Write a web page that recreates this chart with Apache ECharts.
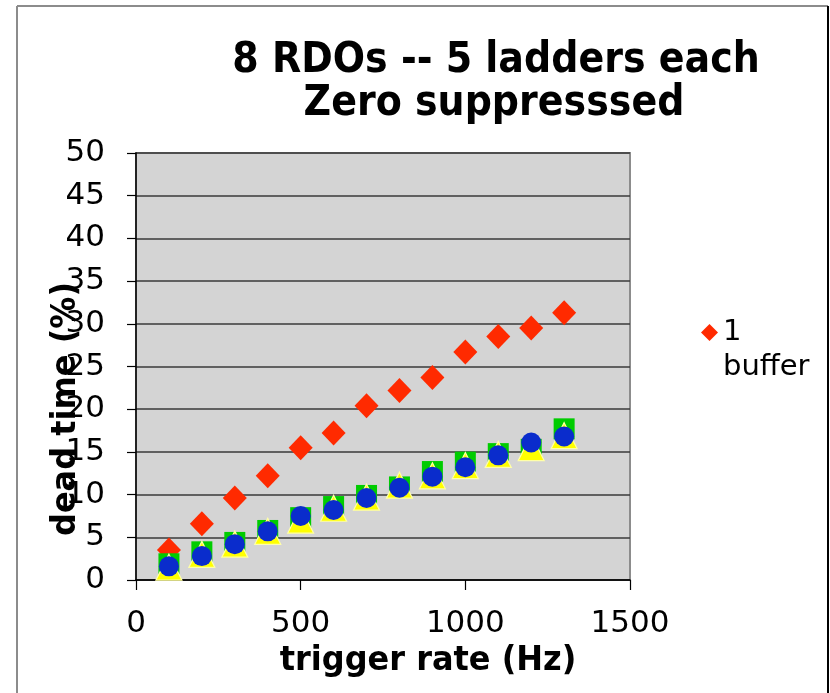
<!DOCTYPE html>
<html>
<head>
<meta charset="utf-8">
<script src="https://cdn.jsdelivr.net/npm/echarts@6/dist/echarts.min.js"></script>
<style>
html,body{margin:0;padding:0;background:#fff;}
#chart{width:830px;height:693px;}
</style>
</head>
<body>
<div id="chart"></div>
<script>
const titleLines = ['8 RDOs -- 5 ladders each', 'Zero suppresssed'];
const xName = 'trigger rate (Hz)';
const yName = 'dead time (%)';
const xTicks = [0, 500, 1000, 1500];
const yTicks = [0, 5, 10, 15, 20, 25, 30, 35, 40, 45, 50];
const rates = [100, 200, 300, 400, 500, 600, 700, 800, 900, 1000, 1100, 1200, 1300];
const oneBuffer = [3.5, 6.6, 9.6, 12.2, 15.5, 17.2, 20.4, 22.2, 23.7, 26.7, 28.5, 29.5, 31.3];
const greenSeries = [1.9, 3.3, 4.4, 5.8, 7.3, 8.6, 9.9, 10.9, 12.7, 13.8, 14.8, 15.3, 17.7];
const yellowSeries = [1.5, 3.0, 4.2, 5.7, 7.0, 8.4, 9.7, 11.1, 12.2, 13.4, 14.7, 15.5, 16.9];
const blueSeries = [1.6, 2.8, 4.2, 5.7, 7.5, 8.2, 9.6, 10.8, 12.1, 13.2, 14.6, 16.1, 16.8];

const pairs = arr => rates.map((r, i) => [r, arr[i]]);
const FONT = 'DejaVu Sans';

const chart = echarts.init(document.getElementById('chart'));
chart.setOption({
  animation: false,
  backgroundColor: '#ffffff',
  grid: {
    left: 136, top: 153, right: 200, bottom: 113,
    show: true, backgroundColor: '#d4d4d4', borderColor: '#8c8c8c', borderWidth: 2
  },
  xAxis: {
    type: 'value', min: 0, max: 1500, interval: 500,
    axisLine: { show: true, onZero: false, lineStyle: { color: '#000', width: 1.5 } },
    axisTick: { show: true, inside: false, length: 10, lineStyle: { color: '#000', width: 1.2 } },
    axisLabel: { color: '#000', fontFamily: FONT, fontSize: 31, margin: 28,
      formatter: v => xTicks.includes(v) ? String(v) : '' },
    splitLine: { show: false }
  },
  yAxis: {
    type: 'value', min: 0, max: 50, interval: 5,
    axisLine: { show: true, onZero: false, lineStyle: { color: '#000', width: 1.5 } },
    axisTick: { show: true, inside: false, length: 9, lineStyle: { color: '#000', width: 1.2 } },
    axisLabel: { color: '#000', fontFamily: FONT, fontSize: 31, margin: 31,
      formatter: v => yTicks.includes(v) ? String(v) : '' },
    splitLine: { show: true, lineStyle: { color: '#3a3a3a', width: 1.5 } }
  },
  legend: {
    data: ['1 buffer'],
    left: 701, top: 280, padding: 0,
    orient: 'vertical',
    itemWidth: 17, itemHeight: 17,
    icon: 'diamond',
    formatter: () => ' \n1\nbuffer',
    textStyle: { color: '#000', fontFamily: FONT, fontSize: 29, lineHeight: 35 }
  },
  graphic: [
    { type: 'line', shape: { x1: 17, y1: 6, x2: 17, y2: 693 }, style: { stroke: '#8c8c8c', lineWidth: 2 } },
    { type: 'line', shape: { x1: 17, y1: 6, x2: 828, y2: 6 }, style: { stroke: '#8c8c8c', lineWidth: 2 } },
    { type: 'line', shape: { x1: 828, y1: 6, x2: 828, y2: 693 }, style: { stroke: '#000', lineWidth: 2 } },
    { type: 'text', style: { text: titleLines[0], font: 'bold 38px "DejaVu Sans"', fill: '#000', align: 'center', verticalAlign: 'middle' }, x: 496, y: 61, scaleY: 1.12 },
    { type: 'text', style: { text: titleLines[1], font: 'bold 38px "DejaVu Sans"', fill: '#000', align: 'center', verticalAlign: 'middle' }, x: 494, y: 104, scaleY: 1.12 },
    { type: 'text', style: { text: xName, font: 'bold 32px "DejaVu Sans"', fill: '#000', align: 'center', verticalAlign: 'middle' }, x: 428, y: 661, scaleY: 1.06 },
    { type: 'text', style: { text: yName, font: 'bold 32px "DejaVu Sans"', fill: '#000', align: 'center', verticalAlign: 'middle' }, x: 66, y: 409, rotation: Math.PI / 2, scaleY: 1.06 }
  ],
  series: [
    { name: '1 buffer', type: 'scatter', symbol: 'diamond', symbolSize: [24, 25],
      itemStyle: { color: '#ff2a00', opacity: 1 }, data: pairs(oneBuffer) },
    { name: 'green', type: 'scatter', symbol: 'rect', symbolSize: 21,
      itemStyle: { color: '#00cc00', opacity: 1 }, data: pairs(greenSeries) },
    { name: 'yellow', type: 'scatter', symbol: 'triangle', symbolSize: [26, 26],
      itemStyle: { color: '#ffff00', borderColor: '#ffffa8', borderWidth: 1.2, opacity: 1 }, data: pairs(yellowSeries) },
    { name: 'blue', type: 'scatter', symbol: 'circle', symbolSize: 20,
      itemStyle: { color: '#0a2ccc', opacity: 1 }, data: pairs(blueSeries) }
  ]
});
</script>
</body>
</html>
